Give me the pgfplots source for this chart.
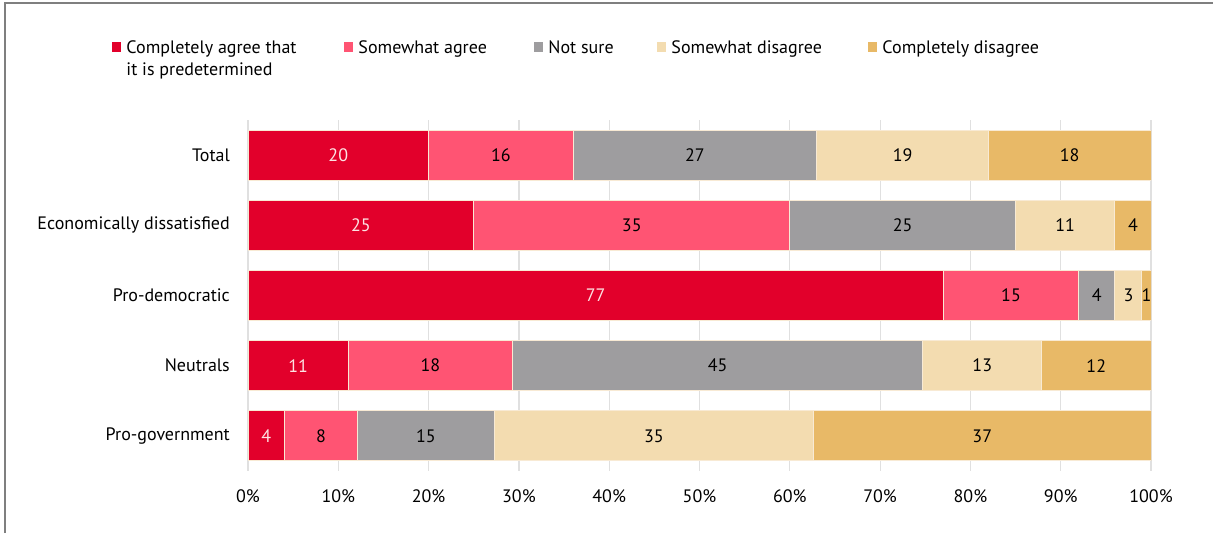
\documentclass[border=0pt]{standalone}
\usepackage{pgfplots}
\pgfplotsset{compat=1.18}
\usepackage{pgfplotstable}
\usepackage{fontspec}
\setmainfont{PT Sans}
\definecolor{cRed}{HTML}{E2002B}
\definecolor{cPink}{HTML}{FF5473}
\definecolor{cGray}{HTML}{9E9D9F}
\definecolor{cBeige}{HTML}{F3DCB0}
\definecolor{cGold}{HTML}{E8B967}
\definecolor{cBorder}{HTML}{F8EAD4}
\definecolor{cGrid}{HTML}{E0E0E0}
\definecolor{cFrame}{HTML}{7F7F7F}
\definecolor{cLight}{HTML}{FDE3E3}

% bar lengths (rows of 99 scaled to 100)
\pgfplotstableread{
y a b c d e
5 20 16 27 19 18
4 25 35 25 11 4
3 77 15 4 3 1
2 11.111 18.182 45.455 13.131 12.121
1 4.040 8.081 15.152 35.354 37.374
}\bars

% labels inside the red segments
\pgfplotstableread{
x y l
10 5 20
12.5 4 25
38.5 3 77
5.556 2 11
2.020 1 4
}\labA

% labels inside the other segments
\pgfplotstableread{
x y l
28 5 16
42.5 4 35
84.5 3 15
20.202 2 18
8.081 1 8
49.5 5 27
72.5 4 25
94 3 4
52.020 2 45
19.697 1 15
72.5 5 19
90.5 4 11
97.5 3 3
81.313 2 13
44.950 1 35
91 5 18
98 4 4
99.5 3 1
93.939 2 12
81.313 1 37
}\labB

\begin{document}
\fontsize{18}{22.5}\selectfont
\begin{tikzpicture}[x=1pt,y=1pt]
\useasboundingbox (0,0) rectangle (1213,533);
\draw[cFrame, line width=1.3pt] (5,0) -- (5,530) -- (1213,530);
\pgfplotsset{common/.style={
  scale only axis, width=903pt, height=351pt,
  at={(248pt,62pt)}, anchor=south west,
  xmin=0, xmax=100, ymin=0.5, ymax=5.5}}
\begin{axis}[common,
  xbar stacked, bar width=50pt,
  axis line style={draw=none},
  tick style={draw=none},
  xmajorgrids, grid style={cGrid, line width=1.2pt},
  ytick={1,2,3,4,5},
  yticklabels={Pro-government, Neutrals, Pro-democratic, Economically dissatisfied, Total},
  yticklabel style={inner sep=0pt, xshift=-18pt},
  xtick={0,10,...,100},
  xticklabel={\pgfmathprintnumber{\tick}\%},
  xticklabel style={inner sep=0pt, yshift=-18pt},
  /pgf/number format/assume math mode=true,
  legend image code/.code={\fill[#1, draw=none] (0pt,1pt) rectangle (9pt,11pt);},
  legend columns=5,
  legend style={draw=none, fill=none, inner sep=0pt, outer sep=0pt,
    at={(-0.1501,1.226)}, anchor=north west,
    cells={anchor=base west},
    nodes={inner sep=0pt},
    /tikz/every odd column/.append style={column sep=5pt}},
]
\addplot[fill=cRed, draw=cBorder, line width=1pt] table[x=a,y=y]{\bars};
\addlegendentry{\parbox[t]{218pt}{Completely agree that\\it is predetermined}}
\addplot[fill=cPink, draw=cBorder, line width=1pt] table[x=b,y=y]{\bars};
\addlegendentry{\makebox[176pt][l]{Somewhat agree}}
\addplot[fill=cGray, draw=cBorder, line width=1pt] table[x=c,y=y]{\bars};
\addlegendentry{\makebox[109pt][l]{Not sure}}
\addplot[fill=cBeige, draw=cBorder, line width=1pt] table[x=d,y=y]{\bars};
\addlegendentry{\makebox[197pt][l]{Somewhat disagree}}
\addplot[fill=cGold, draw=cBorder, line width=1pt] table[x=e,y=y]{\bars};
\addlegendentry{Completely disagree}
\end{axis}
\begin{axis}[common, hide axis,
  every node near coord/.style={anchor=center, inner sep=0pt}]
\addplot[only marks, mark=none, nodes near coords, point meta=explicit symbolic,
  every node near coord/.append style={text=cLight}]
  table[x=x,y=y,meta=l]{\labA};
\addplot[only marks, mark=none, nodes near coords, point meta=explicit symbolic,
  every node near coord/.append style={text=black}]
  table[x=x,y=y,meta=l]{\labB};
\end{axis}
\end{tikzpicture}
\end{document}
